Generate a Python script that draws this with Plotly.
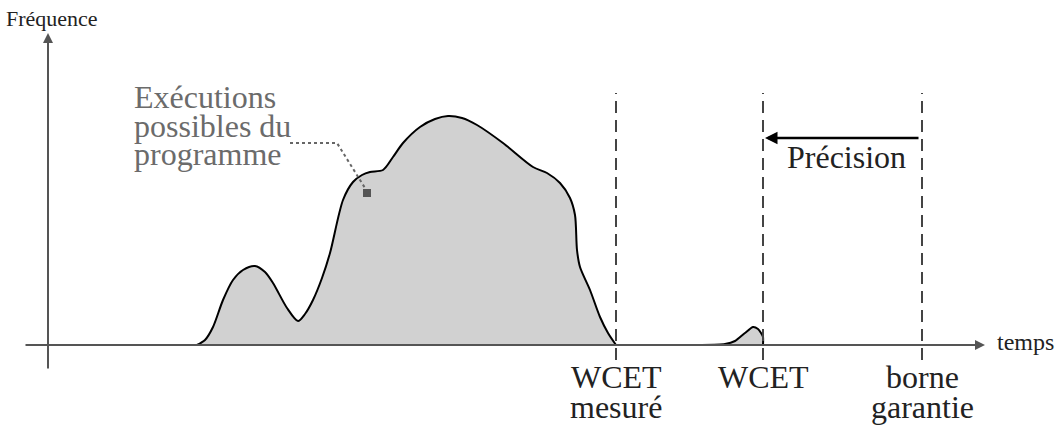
import plotly.graph_objects as go

# Main distribution of possible executions (time, frequency)
main_t = [149, 157, 165, 175, 185, 195, 207, 217, 225, 239, 250, 257, 265, 274, 282,
          295, 305, 314, 322, 335, 345, 355, 372, 387, 400, 414, 429, 455, 485, 499,
          512, 522, 527, 529, 532, 542, 552, 560, 568]
main_f = [0, 5, 18, 45, 65, 75, 79, 73, 62, 37, 24, 31, 45, 67, 92,
          145, 163, 170, 173, 175, 188, 202, 218, 226, 229, 227, 220, 202, 178, 172,
          162, 147, 130, 95, 78, 55, 28, 12, 0]

# Rare executions (flat tail and small bump)
tail_t = [568, 652, 677, 687, 697, 705, 710, 713, 715, 715]
tail_f = [0, 0, 1, 4, 12, 18, 16, 12, 8, 0]

# Reference times
marks_t = [568, 715, 874]
marks_line1 = ["WCET", "WCET", "borne"]
marks_line2 = ["mesuré", "", "garantie"]

SERIF = "Liberation Serif"
INK = "#222222"
AXIS = "#555555"

fig = go.Figure()
fig.add_trace(go.Scatter(x=main_t, y=main_f, mode="lines", line=dict(color="black", width=2, shape="spline", smoothing=0.8),
                         fill="tozeroy", fillcolor="#d1d1d1", hoverinfo="skip", showlegend=False))
fig.add_trace(go.Scatter(x=tail_t, y=tail_f, mode="lines", line=dict(color="black", width=2, shape="spline", smoothing=0.6),
                         fill="tozeroy", fillcolor="#d1d1d1", hoverinfo="skip", showlegend=False))

for t in marks_t:
    fig.add_shape(type="line", x0=t, x1=t, y0=-15, y1=252, xref="x", yref="y",
                  line=dict(color="#444444", width=2, dash="12px,7px"))

# axes
fig.add_annotation(x=937, y=0, ax=-24, ay=0, xref="x", yref="y", axref="x", ayref="y", text="", showarrow=True,
                   arrowhead=2, arrowsize=1, arrowwidth=2, arrowcolor=AXIS, standoff=0)
fig.add_annotation(x=0, y=312, ax=0, ay=-25, xref="x", yref="y", axref="x", ayref="y", text="", showarrow=True,
                   arrowhead=2, arrowsize=1, arrowwidth=2, arrowcolor=AXIS, standoff=0)
# precision arrow
fig.add_annotation(x=717, y=207, ax=872, ay=207, xref="x", yref="y", axref="x", ayref="y", text="", showarrow=True,
                   arrowhead=2, arrowsize=1, arrowwidth=2.5, arrowcolor="black", standoff=0)


def label(x, y, text, size, color=INK, xanchor="center"):
    fig.add_annotation(x=x, y=y, xref="x", yref="y", text=text, showarrow=False,
                       font=dict(family=SERIF, size=size, color=color), xanchor=xanchor, yanchor="middle")


label(798, 188, "Précision", 32)
label(4, 327, "Fréquence", 22)
label(947, 3, "temps", 24, xanchor="left")
for t, l1, l2 in zip(marks_t, marks_line1, marks_line2):
    label(t, -32, l1, 32)
    if l2:
        label(t, -62, l2, 32)
for txt, yy in zip(["Exécutions", "possibles du", "programme"], [248, 219, 191]):
    label(84, yy, txt, 32, color="#6b6b6b", xanchor="left")

fig.add_trace(go.Scatter(x=[242, 289, 317], y=[202, 202, 157], mode="lines",
                         line=dict(color="#666666", width=2, dash="dot"), hoverinfo="skip", showlegend=False))
fig.add_trace(go.Scatter(x=[319], y=[152], mode="markers",
                         marker=dict(symbol="square", size=8, color="#555555"), hoverinfo="skip", showlegend=False))

fig.update_layout(width=1059, height=430, margin=dict(l=0, r=0, t=0, b=0),
                  paper_bgcolor="white", plot_bgcolor="white",
                  xaxis=dict(range=[-48, 1011], visible=False, fixedrange=True),
                  yaxis=dict(range=[-85, 345], visible=False, fixedrange=True))
fig.write_html("out.html")
